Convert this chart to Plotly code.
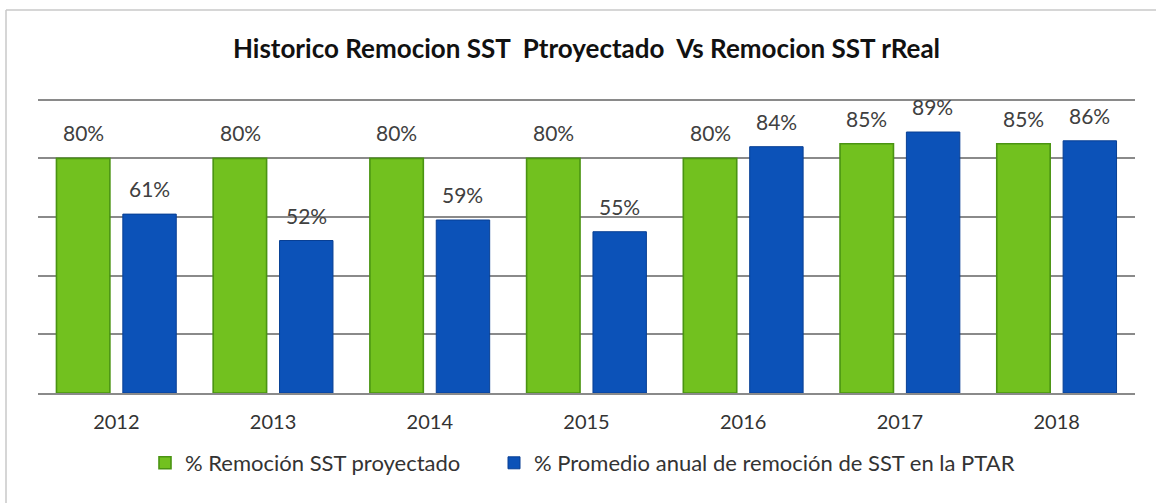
import plotly.graph_objects as go

years = ["2012", "2013", "2014", "2015", "2016", "2017", "2018"]
proyectado = [80, 80, 80, 80, 80, 85, 85]
real = [61, 52, 59, 55, 84, 89, 86]
name_proy = "% Remoción SST proyectado"
name_real = "% Promedio anual de remoción de SST en la PTAR"
title_text = "Historico Remocion SST\u00a0 Ptroyectado\u00a0 Vs Remocion SST rReal"

FONT = "Lato, 'Open Sans', sans-serif"
GREEN = "#72c11f"
GREEN_EDGE = "#4a9412"
BLUE = "#0c52b8"
BLUE_EDGE = "#083f94"

fig = go.Figure()
fig.add_trace(go.Bar(
    x=years, y=proyectado, name=name_proy, legend="legend",
    marker=dict(color=GREEN, line=dict(color=GREEN_EDGE, width=1.6)),
    hoverinfo="skip",
))
fig.add_trace(go.Bar(
    x=years, y=real, name=name_real, legend="legend2",
    marker=dict(color=BLUE, line=dict(color=BLUE_EDGE, width=1)),
    hoverinfo="skip",
))

annotations = []
for series, shift in ((proyectado, -33), (real, 33)):
    for i, v in enumerate(series):
        annotations.append(dict(
            x=i, y=v, xref="x", yref="y", text=f"{v}%", showarrow=False,
            xshift=shift, yshift=11, yanchor="bottom",
            font=dict(family=FONT, size=21, color="#404040"),
        ))

PT, PB = 98, 393  # plot top / bottom in pixels
PH = PB - PT
PL, PR = 38, 1135
PW = PR - PL

legend_style = dict(orientation="h", xanchor="left", y=-(463 - PB) / PH, yanchor="middle",
                    font=dict(family=FONT, size=22, color="#333333"), itemwidth=30,
                    bgcolor="rgba(0,0,0,0)")

fig.update_layout(
    width=1156, height=503,
    margin=dict(l=PL, r=1156 - PR, t=PT, b=503 - PB),
    paper_bgcolor="white", plot_bgcolor="white",
    barmode="group", bargap=0.153, bargroupgap=0.195,
    title=dict(text=title_text, xref="paper", x=0.5, xanchor="center",
               y=1 - 49 / 503, yanchor="middle",
               font=dict(family=FONT, size=26, color="#111111", weight="bold")),
    xaxis=dict(type="category", range=[-0.5, len(years) - 0.5], showgrid=False,
               showline=True, linecolor="#8a8a8a", linewidth=1.5,
               ticks="", ticklabelstandoff=10,
               tickfont=dict(family=FONT, size=20, color="#333333"),
               fixedrange=True),
    yaxis=dict(range=[0, 100.6], dtick=20, showgrid=True, gridcolor="#8a8a8a", gridwidth=1.5,
               showticklabels=False, zeroline=False, fixedrange=True),
    legend=dict(x=(145 - PL) / PW, **legend_style),
    legend2=dict(x=(494 - PL) / PW, **legend_style),
    showlegend=True,
    annotations=annotations,
    shapes=[
        dict(type="line", xref="paper", yref="paper",
             x0=(6 - PL) / PW, x1=(1156 - PL) / PW,
             y0=(PB - 10) / PH, y1=(PB - 10) / PH,
             line=dict(color="#c8c8c8", width=1.5)),
        dict(type="line", xref="paper", yref="paper",
             x0=(6 - PL) / PW, x1=(6 - PL) / PW,
             y0=(PB - 10) / PH, y1=(PB - 503) / PH,
             line=dict(color="#c8c8c8", width=1.5)),
    ],
)

fig.write_html("out.html", config={"displayModeBar": False},
               post_script="document.body.style.margin='0';document.body.style.overflow='hidden';")
